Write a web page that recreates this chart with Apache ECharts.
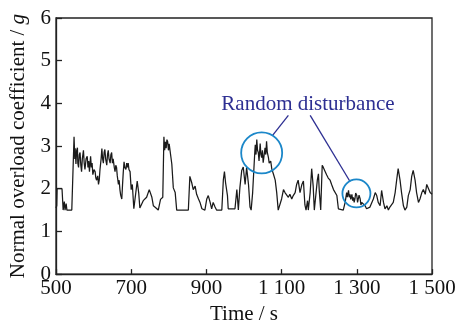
<!DOCTYPE html>
<html><head><meta charset="utf-8">
<script src="https://cdn.jsdelivr.net/npm/echarts@6/dist/echarts.min.js"></script>
<style>html,body{margin:0;padding:0;background:#fff}#c{width:459px;height:330px}</style>
</head><body><div id="c"></div>
<script>
const xTicks = [500, 700, 900, 1100, 1300, 1500];
const yTicks = [0, 1, 2, 3, 4, 5, 6];
const time = [500,502,503,505,507,509,511,513,516,518,519,522,524,527,529,542,
548,550,551,553,555,557,558,560,562,564,566,568,570,573,575,577,580,583,585,587,589,592,594,596,598,601,604,606,608,611,613,615,617,620,622,624,626,628,630,632,635,637,639,641,644,646,648,650,652,655,657,659,661,663,666,668,670,672,675,677,679,681,683,686,688,690,692,694,697,
700,703,707,711,716,720,723,732,741,748,755,759,766,772,778,784,
787,789,791,793,795,797,799,801,803,808,812,817,821,852,856,861,865,870,874,879,883,888,892,896,901,905,910,914,918,923,927,941,945,948,951,956,958,963,976,981,985,989,994,998,1003,1007,1012,1016,1019,1023,
1027,1029,1030,1032,1034,1036,1038,1040,1043,1045,1047,1049,1051,1053,1056,1058,1060,1062,1065,1067,1069,1071,1074,1078,1083,1087,1091,1096,1100,1105,1109,1114,1118,1122,1127,1131,1136,1140,1144,1149,1154,1158,1162,1165,1169,1171,1176,1180,1184,1187,1192,1195,1198,1200,1204,1208,1211,1216,1220,1224,1229,1233,1238,1242,1247,1251,1255,1264,1269,
1273,1275,1278,1280,1282,1284,1287,1289,1291,1293,1295,1297,1300,1302,1304,1306,1309,1311,1313,1317,1322,1326,1331,1335,1340,1344,1349,1353,1357,1362,1366,1371,1375,1380,1384,1388,1393,1397,1402,1406,1410,1415,1419,1424,1428,1433,1437,1442,1446,1450,1455,1459,1464,1468,1473,1477,1482,1486,1490,1495,1500];
const overload = [1.55,1.6,2.0,2.0,1.98,2.0,2.0,1.98,2.0,2.0,1.5,1.7,1.5,1.65,1.5,1.5,
3.22,2.7,2.95,2.58,2.9,2.96,2.6,2.5,2.8,2.85,2.55,2.4,2.7,2.9,2.6,2.45,2.7,2.76,2.5,2.65,2.4,2.76,2.5,2.6,2.33,2.45,2.4,2.25,2.2,2.3,2.1,2.2,2.45,2.7,2.94,2.7,2.6,2.85,2.92,2.7,2.55,2.8,2.9,2.7,2.6,2.8,2.85,2.6,2.7,2.5,2.4,2.55,2.5,2.3,2.1,2.2,1.98,1.85,1.76,2.1,2.4,2.63,2.5,2.45,2.6,2.5,2.6,2.45,2.4,
1.98,2.1,1.53,1.5,2.18,1.9,1.55,1.72,1.8,1.98,1.8,1.6,1.55,1.5,1.75,1.8,
3.22,2.9,3.1,2.95,3.15,3.1,2.9,3.05,3.03,2.58,2.02,1.91,1.5,1.5,2.29,2.14,1.98,2.06,1.87,1.76,1.68,1.53,1.57,1.5,1.76,1.84,1.68,1.53,1.68,1.57,1.5,1.5,2.2,2.4,2.14,1.84,1.53,1.5,1.53,1.98,1.5,2.02,2.43,2.51,2.1,2.5,2.1,1.57,1.5,1.91,
2.58,2.9,3.03,2.8,3.15,2.9,2.85,2.65,3.06,2.8,2.73,2.9,2.61,2.75,2.96,2.8,3.11,2.85,2.73,2.6,2.58,2.65,2.46,2.35,2.2,1.91,1.5,1.53,1.76,1.98,1.91,1.95,1.8,1.87,1.76,1.84,1.91,2.1,2.2,1.91,2.1,2.18,1.62,1.5,1.72,1.5,1.91,2.47,2.06,1.5,1.53,2.2,2.35,1.98,1.5,2.55,2.5,2.4,2.32,2.25,2.2,2.1,1.98,1.95,1.84,1.53,1.5,1.5,1.68,
1.91,1.8,1.96,1.8,1.87,1.75,1.87,1.72,1.8,1.68,1.76,1.9,1.84,1.68,1.72,1.85,1.76,1.62,1.68,1.72,1.6,1.53,1.5,1.57,1.53,1.76,1.91,1.84,1.68,1.6,1.96,1.68,1.53,1.6,1.5,1.57,1.53,1.68,1.91,2.2,2.47,2.2,1.91,1.6,1.5,1.57,1.84,1.98,2.29,2.43,2.2,1.91,1.68,1.76,1.91,1.98,1.87,2.1,2.14,1.91,1.87];
const annotationText = 'Random disturbance';
const circles = [[1047, 2.84, 41], [1299, 1.89, 28]];
const leaders = [[[1118, 3.72], [1075, 3.24]], [[1176, 3.72], [1282, 2.17]]];
const labelAt = [1170, 3.98];

const font = 'Liberation Serif';
const chart = echarts.init(document.getElementById('c'), null, {renderer: 'canvas'});
const fmt = v => { const s = String(v); return s.length > 3 ? s.slice(0, s.length - 3) + ' ' + s.slice(-3) : s; };
chart.setOption({
  animation: false,
  backgroundColor: '#fff',
  grid: {left: 56, right: 27, top: 18, bottom: 45, show: true, borderColor: '#222', borderWidth: 1.3, backgroundColor: 'transparent'},
  xAxis: {
    type: 'value', min: xTicks[0], max: xTicks[xTicks.length - 1], interval: 200,
    name: 'Time / s', nameLocation: 'middle', nameGap: 25,
    nameTextStyle: {fontFamily: font, fontSize: 21, color: '#111'},
    axisLine: {show: true, lineStyle: {color: '#222', width: 1.3}},
    axisTick: {show: true, inside: true, length: 5, lineStyle: {color: '#222', width: 1.3}},
    axisLabel: {fontFamily: font, fontSize: 21, color: '#111', margin: 4, formatter: fmt},
    splitLine: {show: false}
  },
  yAxis: {
    type: 'value', min: yTicks[0], max: yTicks[yTicks.length - 1], interval: 1,
    name: '{a|Normal overload coefficient / }{b|g}', nameLocation: 'middle', nameGap: 27, nameRotate: 90,
    nameTextStyle: {fontFamily: font, fontSize: 21, color: '#111',
      rich: {a: {fontFamily: font, fontSize: 21, color: '#111'}, b: {fontFamily: font, fontSize: 21, fontStyle: 'italic', color: '#111'}}},
    axisLine: {show: true, lineStyle: {color: '#222', width: 1.3}},
    axisTick: {show: true, inside: true, length: 6, lineStyle: {color: '#222', width: 1.3}},
    axisLabel: {fontFamily: font, fontSize: 21, color: '#111', margin: 5},
    splitLine: {show: false}
  },
  series: [{
    type: 'line', data: time.map((t, i) => [t, overload[i]]),
    symbol: 'none', lineStyle: {color: '#1a1a1a', width: 1.25}, z: 2,
    markPoint: {
      silent: true,
      data: circles.map(c => ({coord: [c[0], c[1]], symbol: 'circle', symbolSize: c[2],
        itemStyle: {color: 'rgba(0,0,0,0)', borderColor: '#1b87c9', borderWidth: 1.8}, label: {show: false}}))
        .concat([{coord: labelAt, symbol: 'circle', symbolSize: 0,
          label: {show: true, formatter: annotationText, fontFamily: font, fontSize: 21, color: '#2d2f92', position: 'inside'}}])
    },
    markLine: {
      silent: true, symbol: 'none', animation: false,
      lineStyle: {color: '#2d2f92', width: 1.3, type: 'solid'}, label: {show: false},
      data: leaders.map(l => [{coord: l[0]}, {coord: l[1]}])
    }
  }]
});
</script></body></html>
